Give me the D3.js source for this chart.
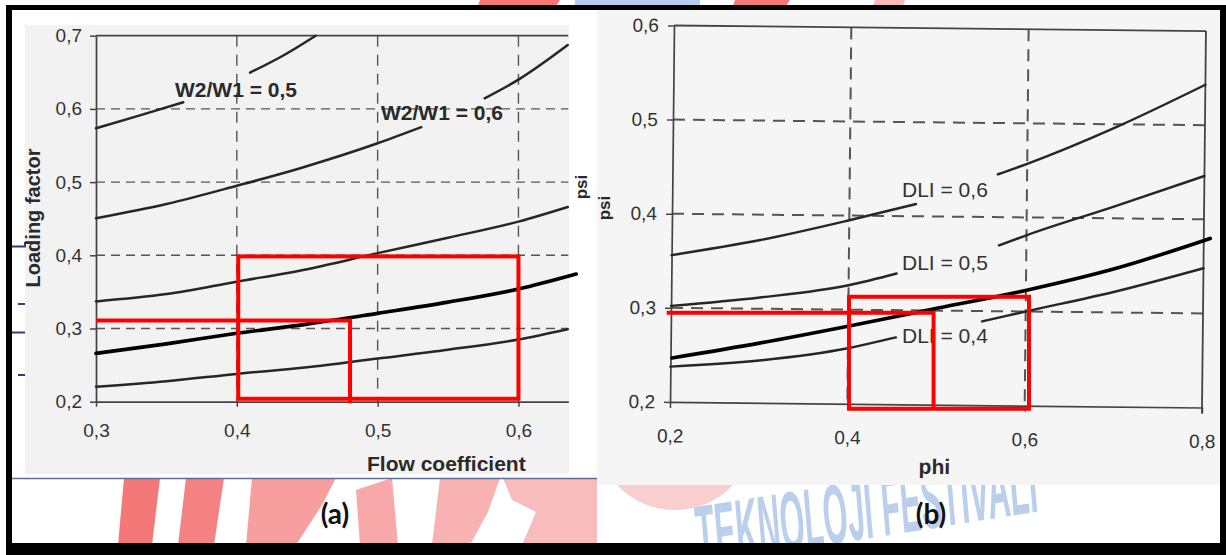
<!DOCTYPE html>
<html>
<head>
<meta charset="utf-8">
<script src="https://cdn.jsdelivr.net/npm/d3@7/dist/d3.min.js"></script>
<style>
  html, body { margin: 0; padding: 0; background: #fff; }
  svg { display: block; }
</style>
</head>
<body>
<div id="wrapper"></div>
<script>
// ---- chart (a): loading factor vs flow coefficient ----
const aXTicks = [0.3, 0.4, 0.5, 0.6]
const aYTicks = [0.2, 0.3, 0.4, 0.5, 0.6, 0.7]
const aXGrid = [0.4, 0.5, 0.6]
const aYGrid = [0.3, 0.4, 0.5, 0.6]

// curves are split where the printed label interrupts them
const aCurve05 = [
  [[0.3, 0.5735], [0.33, 0.5905], [0.362, 0.609]],
  [[0.4094, 0.6495], [0.433, 0.673], [0.456, 0.70]]
]
const aCurve06 = [
  [[0.3, 0.4505], [0.35, 0.47], [0.4, 0.495], [0.445, 0.519], [0.5, 0.553], [0.531, 0.575]],
  [[0.576, 0.6145], [0.6, 0.640], [0.635, 0.6873]]
]
const aCurve07 = [
  [[0.3, 0.337], [0.35, 0.347], [0.4, 0.364], [0.45, 0.381], [0.5, 0.403], [0.55, 0.424], [0.6, 0.446], [0.635, 0.466]]
]
const aCurve08 = [
  [[0.3, 0.2205], [0.35, 0.228], [0.4, 0.238], [0.45, 0.247], [0.5, 0.259], [0.55, 0.271], [0.6, 0.285], [0.635, 0.299]]
]
const aDesign = [[0.3, 0.266], [0.35, 0.279], [0.4, 0.2934], [0.45, 0.306], [0.5, 0.3207], [0.55, 0.336], [0.6, 0.354], [0.641, 0.3745]]

const aRedX = [0.401, 0.6]
const aRedY = [0.204, 0.3985]
const aRedGuide = [[0.3, 0.311], [0.4804, 0.311], [0.4804, 0.198]]

const aLabels = ["W2/W1 = 0,5", "W2/W1 = 0,6"]
const aLabelPos = [[0.3561, 0.6167], [0.5024, 0.5848]]

// ---- chart (b): psi vs phi ----
const bXTicks = [0.2, 0.4, 0.6, 0.8]
const bYTicks = [0.2, 0.3, 0.4, 0.5, 0.6]
const bXGrid = [0.4, 0.6]
const bYGrid = [0.3, 0.4, 0.5]

const bCurve06 = [
  [[0.2, 0.356], [0.3, 0.373], [0.4, 0.395], [0.475, 0.413]],
  [[0.567, 0.4455], [0.6, 0.457], [0.7, 0.497], [0.8, 0.543]]
]
const bCurve05 = [
  [[0.2, 0.302], [0.3, 0.312], [0.4, 0.326], [0.454, 0.339]],
  [[0.569, 0.370], [0.6, 0.381], [0.7, 0.413], [0.8, 0.446]]
]
const bCurve04 = [
  [[0.2, 0.2375], [0.3, 0.245], [0.4, 0.259], [0.454, 0.271]],
  [[0.551, 0.289], [0.6, 0.300], [0.7, 0.322], [0.8, 0.348]]
]
const bDesign = [[0.2, 0.248], [0.3, 0.264], [0.4, 0.282], [0.5, 0.301], [0.6, 0.320], [0.7, 0.343], [0.807, 0.375]]

const bRedX = [0.3996, 0.6026]
const bRedY = [0.194, 0.313]
const bRedGuide = [[0.194, 0.296], [0.495, 0.296], [0.495, 0.1945]]

const bLabels = ["DLI = 0,6", "DLI = 0,5", "DLI = 0,4"]
const bLabelPos = [[0.4594, 0.419], [0.4594, 0.3415], [0.4594, 0.2639]]

const fmtComma = (d) => d3.format(".1f")(d).replace(".", ",")

// 1. canvas
const width = 1226
const height = 555
const svg = d3.select("#wrapper").append("svg")
  .attr("width", width)
  .attr("height", height)

svg.append("rect").attr("width", width).attr("height", height).attr("fill", "#fff")

// 2. background watermark (slide decoration behind the scans)
const defs = svg.append("defs")
defs.append("clipPath").attr("id", "below-panels")
  .append("rect").attr("x", 0).attr("y", 478).attr("width", width).attr("height", 80)

const wm = svg.append("g")
const wmShapes = [
  { pts: [[124, 478], [160, 478], [152, 545], [118, 545]], op: 0.7 },
  { pts: [[186, 478], [224, 478], [214, 545], [178, 545]], op: 0.65 },
  { pts: [[252, 478], [336, 478], [322, 505], [296, 545], [246, 545]], op: 0.5 },
  { pts: [[356, 490], [392, 478], [398, 545], [360, 545]], op: 0.45 },
  { pts: [[440, 478], [500, 478], [488, 512], [470, 545], [432, 545]], op: 0.4 },
  { pts: [[503, 478], [597, 478], [597, 545], [522, 545], [536, 512], [512, 500]], op: 0.35 },
  { pts: [[480, 0], [560, 0], [556, 6], [478, 6]], op: 0.7 },
  { pts: [[735, 0], [790, 0], [786, 6], [733, 6]], op: 0.7 },
  { pts: [[875, 0], [905, 0], [903, 6], [873, 6]], op: 0.35 }
]
wm.selectAll("polygon")
  .data(wmShapes)
  .join("polygon")
  .attr("points", (d) => d.pts.map((p) => p.join(",")).join(" "))
  .attr("fill", "#ef3f3f")
  .attr("opacity", (d) => d.op)
wm.append("rect").attr("x", 575).attr("y", 0).attr("width", 125).attr("height", 6)
  .attr("fill", "#b8cde9")
wm.append("circle").attr("cx", 675).attr("cy", 430).attr("r", 80)
  .attr("clip-path", "url(#below-panels)")
  .attr("fill", "#f6c2c2").attr("opacity", 0.8)
wm.append("text")
  .attr("transform", "translate(700,565) rotate(-9)")
  .attr("textLength", 345)
  .attr("lengthAdjust", "spacingAndGlyphs")
  .style("font-family", "Liberation Sans, Arial, sans-serif")
  .style("font-weight", "bold")
  .style("font-style", "italic")
  .style("font-size", "84px")
  .style("fill", "#b9cfec")
  .text("TEKNOLOJİ FESTİVALİ")

// 3. scanned panels
svg.append("rect").attr("x", 25).attr("y", 25).attr("width", 544).attr("height", 449).attr("fill", "#f2f2f2")
svg.append("rect").attr("x", 597).attr("y", 10).attr("width", 624).attr("height", 475).attr("fill", "#f5f5f5")
svg.append("line").attr("x1", 12).attr("x2", 597).attr("y1", 478.5).attr("y2", 478.5)
  .attr("stroke", "#5d6b9e").attr("stroke-width", 1.6)

// small slide marks on the left edge
const marks = svg.append("g").attr("stroke", "#2f3d7a").attr("stroke-width", 2)
marks.append("polyline").attr("points", "12,246.5 25,246.5 25,242").attr("fill", "none")
marks.append("line").attr("x1", 18).attr("x2", 25).attr("y1", 304).attr("y2", 304)
marks.append("line").attr("x1", 12).attr("x2", 25).attr("y1", 332.5).attr("y2", 332.5)
marks.append("line").attr("x1", 18).attr("x2", 25).attr("y1", 375).attr("y2", 375)

const textFont = "Liberation Sans, Arial, sans-serif"

function styleAxis(g, fontSize) {
  g.select(".domain").attr("stroke", "#444").attr("stroke-width", 1.7)
  g.selectAll(".tick line").attr("stroke", "#444").attr("stroke-width", 1.5)
  g.selectAll(".tick text")
    .attr("fill", "#333")
    .style("font-family", textFont)
    .style("font-size", fontSize)
}

function drawCurves(g, segments, x, y, color, w) {
  const line = d3.line().x((d) => x(d[0])).y((d) => y(d[1])).curve(d3.curveMonotoneX)
  g.append("g").selectAll("path")
    .data(segments)
    .join("path")
    .attr("d", line)
    .attr("fill", "none")
    .attr("stroke", color)
    .attr("stroke-width", w)
    .attr("stroke-linecap", "round")
}

// 4. chart (a)
const xA = d3.scaleLinear().domain([0.3, 0.6354]).range([96, 568.3])
const yA = d3.scaleLinear().domain([0.2, 0.7]).range([401.7, 35.7])
const gA = svg.append("g")

gA.append("g").selectAll("line")
  .data(aYGrid)
  .join("line")
  .attr("x1", xA(0.3)).attr("x2", xA.range()[1])
  .attr("y1", (d) => yA(d)).attr("y2", (d) => yA(d))
  .attr("stroke", "#555").attr("stroke-width", 1.4).attr("stroke-dasharray", "9,6")
gA.append("g").selectAll("line")
  .data(aXGrid)
  .join("line")
  .attr("x1", (d) => xA(d)).attr("x2", (d) => xA(d))
  .attr("y1", yA(0.7)).attr("y2", yA(0.2))
  .attr("stroke", "#555").attr("stroke-width", 1.4).attr("stroke-dasharray", "11,8")

gA.append("line")
  .attr("x1", xA(0.3)).attr("x2", xA.range()[1])
  .attr("y1", yA(0.7)).attr("y2", yA(0.7))
  .attr("stroke", "#444").attr("stroke-width", 1.7)

const aLeftAxis = gA.append("g")
  .attr("transform", `translate(${xA(0.3)},0)`)
  .call(d3.axisLeft(yA).tickValues(aYTicks).tickSize(6).tickSizeOuter(0).tickPadding(8).tickFormat(fmtComma))
styleAxis(aLeftAxis, "19px")

const aBottomAxis = gA.append("g")
  .attr("transform", `translate(0,${yA(0.2)})`)
  .call(d3.axisBottom(xA).tickValues(aXTicks).tickSize(5).tickSizeOuter(0).tickPadding(17).tickFormat(fmtComma))
styleAxis(aBottomAxis, "19px")

;[aCurve05, aCurve06, aCurve07, aCurve08].forEach((c) => drawCurves(gA, c, xA, yA, "#262626", 2.5))

gA.selectAll(".curve-label")
  .data(aLabels)
  .join("text")
  .attr("class", "curve-label")
  .attr("x", (d, i) => xA(aLabelPos[i][0]))
  .attr("y", (d, i) => yA(aLabelPos[i][1]))
  .style("font-family", textFont)
  .style("font-weight", "bold")
  .style("font-size", "21px")
  .attr("fill", "#2a2a2a")
  .text((d) => d)

gA.append("text")
  .attr("x", 367).attr("y", 471)
  .style("font-family", textFont).style("font-weight", "bold").style("font-size", "21px")
  .attr("fill", "#2a2a2a")
  .text("Flow coefficient")

gA.append("text")
  .attr("transform", "translate(40,218) rotate(-90)")
  .attr("text-anchor", "middle")
  .style("font-family", textFont).style("font-weight", "bold").style("font-size", "20px")
  .attr("fill", "#2a2a2a")
  .text("Loading factor")

// design line and red selection overlay
drawCurves(gA, [aDesign], xA, yA, "#000", 3.6)
gA.append("rect")
  .attr("x", xA(aRedX[0])).attr("y", yA(aRedY[1]))
  .attr("width", xA(aRedX[1]) - xA(aRedX[0]))
  .attr("height", yA(aRedY[0]) - yA(aRedY[1]))
  .attr("fill", "none").attr("stroke", "#ff0000").attr("stroke-width", 4)
gA.append("path")
  .attr("d", d3.line().x((d) => xA(d[0])).y((d) => yA(d[1]))(aRedGuide))
  .attr("fill", "none").attr("stroke", "#ff0000").attr("stroke-width", 4)

// 5. chart (b) - the scan is slightly rotated
const xB = d3.scaleLinear().domain([0.2, 0.8]).range([672, 1204])
const yBScan = d3.scaleLinear().domain([0.2, 0.6]).range([404.7, 28.3])
const yB = d3.scaleLinear().domain([0.2, 0.6]).range([403.1, 26.7])
const gBScan = svg.append("g").attr("transform", "rotate(0.6, 938, 216)")

gBScan.append("g").selectAll("line")
  .data(bYGrid)
  .join("line")
  .attr("x1", xB(0.2)).attr("x2", xB(0.8))
  .attr("y1", (d) => yBScan(d)).attr("y2", (d) => yBScan(d))
  .attr("stroke", "#555").attr("stroke-width", 2).attr("stroke-dasharray", "12,8")
gBScan.append("g").selectAll("line")
  .data(bXGrid)
  .join("line")
  .attr("x1", (d) => xB(d)).attr("x2", (d) => xB(d))
  .attr("y1", yBScan(0.6)).attr("y2", yBScan(0.2))
  .attr("stroke", "#555").attr("stroke-width", 2).attr("stroke-dasharray", "12,8")

gBScan.append("line")
  .attr("x1", xB(0.2)).attr("x2", xB(0.8))
  .attr("y1", yBScan(0.6)).attr("y2", yBScan(0.6))
  .attr("stroke", "#444").attr("stroke-width", 1.8)
gBScan.append("line")
  .attr("x1", xB(0.8)).attr("x2", xB(0.8))
  .attr("y1", yBScan(0.6)).attr("y2", yBScan(0.2) + 6)
  .attr("stroke", "#444").attr("stroke-width", 1.8)

const bLeftAxis = gBScan.append("g")
  .attr("transform", `translate(${xB(0.2)},0)`)
  .call(d3.axisLeft(yBScan).tickValues(bYTicks).tickSize(6).tickSizeOuter(0).tickPadding(9).tickFormat(fmtComma))
styleAxis(bLeftAxis, "19px")

const bBottomAxis = gBScan.append("g")
  .attr("transform", `translate(0,${yBScan(0.2)})`)
  .call(d3.axisBottom(xB).tickValues(bXTicks).tickSize(6).tickSizeOuter(0).tickPadding(21).tickFormat(fmtComma))
styleAxis(bBottomAxis, "19px")

;[bCurve06, bCurve05, bCurve04].forEach((c) => drawCurves(gBScan, c, xB, yBScan, "#262626", 2.4))

gBScan.append("text")
  .attr("x", 937).attr("y", 474)
  .attr("text-anchor", "middle")
  .style("font-family", textFont).style("font-weight", "bold").style("font-size", "21px")
  .attr("fill", "#2a2a2a")
  .text("phi")

const gB = svg.append("g")

gB.selectAll(".curve-label")
  .data(bLabels)
  .join("text")
  .attr("class", "curve-label")
  .attr("x", (d, i) => xB(bLabelPos[i][0]))
  .attr("y", (d, i) => yB(bLabelPos[i][1]))
  .style("font-family", textFont)
  .style("font-size", "21px")
  .attr("fill", "#333")
  .text((d) => d)

// two "psi" titles appear in the slide
gB.selectAll(".psi")
  .data([[581, 187], [604, 208]])
  .join("text")
  .attr("class", "psi")
  .attr("transform", (d) => `translate(${d[0] + 6},${d[1]}) rotate(-90)`)
  .attr("text-anchor", "middle")
  .style("font-family", textFont).style("font-weight", "bold").style("font-size", "17px")
  .attr("fill", "#2a2a2a")
  .text("psi")

drawCurves(gB, [bDesign], xB, yB, "#000", 3.6)
gB.append("rect")
  .attr("x", xB(bRedX[0])).attr("y", yB(bRedY[1]))
  .attr("width", xB(bRedX[1]) - xB(bRedX[0]))
  .attr("height", yB(bRedY[0]) - yB(bRedY[1]))
  .attr("fill", "none").attr("stroke", "#ff0000").attr("stroke-width", 4)
gB.append("path")
  .attr("d", d3.line().x((d) => xB(d[0])).y((d) => yB(d[1]))(bRedGuide))
  .attr("fill", "none").attr("stroke", "#ff0000").attr("stroke-width", 4)

// 6. panel captions
svg.selectAll(".caption")
  .data([["(a)", 335], ["(b)", 931]])
  .join("text")
  .attr("class", "caption")
  .attr("x", (d) => d[1]).attr("y", 524)
  .attr("text-anchor", "middle")
  .style("font-family", "Lato, 'Open Sans', sans-serif")
  .style("font-weight", "bold")
  .style("font-size", "28px")
  .attr("fill", "#111")
  .text((d) => d[0])

// 7. black frame
const frame = svg.append("g").attr("fill", "#000")
frame.append("rect").attr("x", 6).attr("y", 5).attr("width", 1220).attr("height", 5)
frame.append("rect").attr("x", 6).attr("y", 5).attr("width", 6).attr("height", 550)
frame.append("rect").attr("x", 1220).attr("y", 5).attr("width", 6).attr("height", 550)
frame.append("rect").attr("x", 6).attr("y", 543).attr("width", 1220).attr("height", 12)
</script>
</body>
</html>
